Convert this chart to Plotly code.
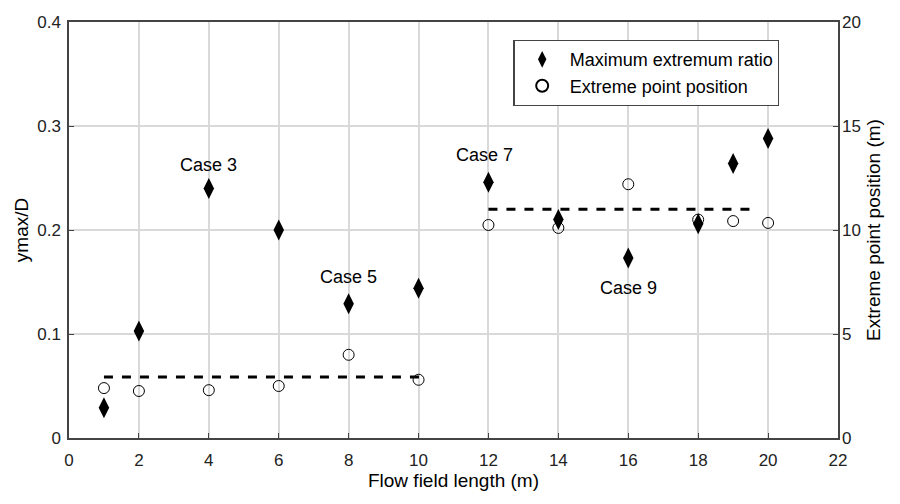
import plotly.graph_objects as go

x_vals = [1, 2, 4, 6, 8, 10, 12, 14, 16, 18, 19, 20]
ratio = [0.029, 0.103, 0.240, 0.200, 0.129, 0.144, 0.246, 0.210, 0.173, 0.206, 0.264, 0.288]
position = [2.40, 2.26, 2.30, 2.50, 4.00, 2.80, 10.24, 10.10, 12.20, 10.50, 10.43, 10.34]
dash1_x = [1, 10.2]
dash1_y = [0.0587, 0.0587]
dash2_x = [12, 19.7]
dash2_y = [0.22, 0.22]
case_labels = ["Case 3", "Case 5", "Case 7", "Case 9"]
case_x = [4, 8, 11.9, 16]
case_y = [0.2625, 0.155, 0.272, 0.144]

font = "Liberation Sans, Arial, sans-serif"
fig = go.Figure()
fig.add_trace(go.Scatter(x=dash1_x, y=dash1_y, mode="lines",
                         line=dict(color="black", width=3, dash="dash"), showlegend=False))
fig.add_trace(go.Scatter(x=dash2_x, y=dash2_y, mode="lines",
                         line=dict(color="black", width=3, dash="dash"), showlegend=False))
fig.add_trace(go.Scatter(x=x_vals, y=ratio, mode="markers", name="Maximum extremum ratio",
                         marker=dict(symbol="diamond-tall", size=15, color="black")))
fig.add_trace(go.Scatter(x=x_vals, y=position, mode="markers", name="Extreme point position",
                         yaxis="y2",
                         marker=dict(symbol="circle-open", size=11, color="black", line=dict(width=1))))
for t, xx, yy in zip(case_labels, case_x, case_y):
    fig.add_annotation(x=xx, y=yy, text=t, showarrow=False, font=dict(size=18, color="black", family=font))

axis_common = dict(showline=True, linecolor="#444", linewidth=1.5, mirror=True, ticks="inside",
                   tickcolor="#444", ticklen=5, showgrid=True, gridcolor="#d9d9d9", gridwidth=1.5,
                   zeroline=False, tickfont=dict(size=17, color="#222", family=font))
fig.update_layout(
    width=900, height=504, paper_bgcolor="white", plot_bgcolor="white",
    margin=dict(l=69, r=62, t=22, b=66),
    font=dict(family=font, color="black"),
    xaxis=dict(range=[0, 22], dtick=2, ticklabelstandoff=6,
               title=dict(text="Flow field length (m)", font=dict(size=19), standoff=4), **axis_common),
    yaxis=dict(range=[0, 0.4], dtick=0.1, tickformat=".1~f", ticklabelstandoff=3,
               title=dict(text="ymax/D", font=dict(size=19), standoff=4), **axis_common),
    yaxis2=dict(range=[0, 20], dtick=5, overlaying="y", side="right", showgrid=False, showline=False,
                ticks="inside", ticklen=5, tickcolor="#444", zeroline=False, ticklabelstandoff=3,
                tickfont=dict(size=17, color="#222", family=font),
                title=dict(text="Extreme point position (m)", font=dict(size=19), standoff=6)),
    legend=dict(x=0.578, y=0.957, xanchor="left", yanchor="top", bgcolor="white",
                bordercolor="#444", borderwidth=1.2, font=dict(size=18, family=font),
                itemsizing="constant", itemwidth=45, tracegroupgap=0),
)
fig.write_html("out.html")
